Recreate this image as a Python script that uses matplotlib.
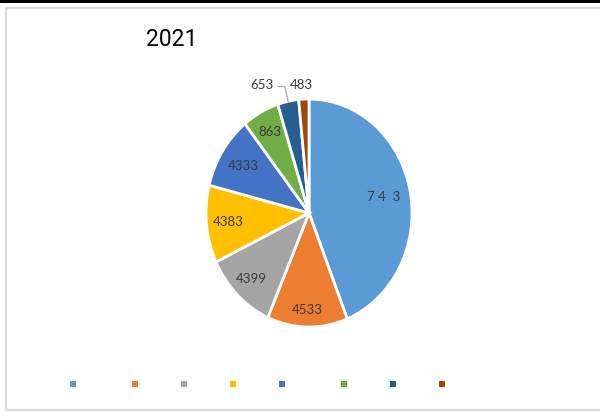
import numpy as np
import matplotlib
matplotlib.use('Agg')
from matplotlib import pyplot as plt
from matplotlib.patches import Rectangle

# slice shares (percent), labels as printed
shares = [44.0, 12.6, 11.4, 11.0, 10.4, 5.8, 3.3, 1.6]
labels = ['7 4  3', '4533', '4399', '4383', '4333', '863', '653', '483']
colors = ['#5B9BD5', '#ED7D31', '#A5A5A5', '#FFC000', '#4472C4', '#70AD47', '#255E91', '#9E480E']
title = '2021'

W, H = 600, 412
fig = plt.figure(figsize=(W / 100, H / 100), dpi=100)

# frame like the spreadsheet chart area
fig.patches.append(Rectangle((0, 1 - 2.5 / H), 1, 2.5 / H, transform=fig.transFigure,
                             facecolor='black', edgecolor='none'))
fig.patches.append(Rectangle((5.5 / W, 1 - 409.5 / H), 1.0, 402 / H, transform=fig.transFigure,
                             facecolor='none', edgecolor='#D9D9D9', linewidth=1.5))

# pie area (slightly taller than wide, like the reference)
ax = fig.add_axes([206 / W, 1 - 327 / H, 206 / W, 228 / H])
wedges, _ = ax.pie(shares, colors=colors, startangle=90, counterclock=False,
                   wedgeprops=dict(edgecolor='white', linewidth=2))
ax.set_aspect('auto')
ax.set_xlim(-1, 1)
ax.set_ylim(-1, 1)
ax.axis('off')

lab_font = dict(family=['Lato', 'DejaVu Sans'], fontsize=9.5, color='#3A3A3A')
inside_r = [0.74, 0.85, 0.80, 0.79, 0.76, 0.81]
for i, w in enumerate(wedges):
    mid = np.deg2rad((w.theta1 + w.theta2) / 2)
    if i < len(inside_r):
        r = inside_r[i]
        ax.text(r * np.cos(mid), r * np.sin(mid), labels[i], ha='center', va='center', **lab_font)

# two small slices labelled outside
m6 = np.deg2rad((wedges[6].theta1 + wedges[6].theta2) / 2)
tx, ty = -0.46, 1.12
ax.text(tx, ty, labels[6], ha='center', va='center', clip_on=False, **lab_font)
ax.plot([tx + 0.16, tx + 0.225, 0.99 * np.cos(m6)], [ty - 0.01, ty - 0.01, 0.99 * np.sin(m6)],
        color='#A6A6A6', lw=0.9, clip_on=False)
ax.text(-0.07, 1.12, labels[7], ha='center', va='center', clip_on=False, **lab_font)

fig.text(172 / W, 1 - 40 / H, title, ha='center', va='center', fontsize=16.5,
         family=['Roboto', 'DejaVu Sans'], color='black')

# legend markers without names
leg_x = [73, 135, 184, 233, 282, 344, 393, 442]
for x, c in zip(leg_x, colors):
    fig.patches.append(Rectangle(((x - 3) / W, 1 - 387 / H), 6 / W, 6 / H,
                                 transform=fig.transFigure, facecolor=c, edgecolor='none'))

fig.savefig('out.png', dpi=100)
